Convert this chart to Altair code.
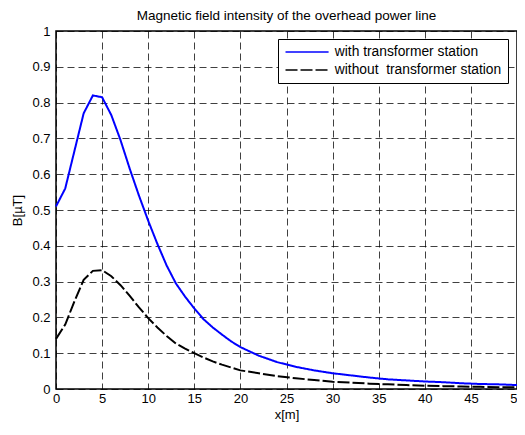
import altair as alt
import pandas as pd

x_vals = list(range(0, 21)) + list(range(22, 51, 2))

with_station = [0.51, 0.56, 0.665, 0.77, 0.82, 0.815, 0.765, 0.695, 0.615, 0.54,
                0.47, 0.405, 0.345, 0.295, 0.258, 0.225, 0.195, 0.172, 0.152, 0.133,
                0.117, 0.093, 0.075, 0.062, 0.052, 0.044, 0.038, 0.032, 0.027, 0.024,
                0.021, 0.019, 0.016, 0.014, 0.013, 0.011]

without_station = [0.14, 0.18, 0.245, 0.305, 0.33, 0.332, 0.315, 0.29, 0.26, 0.228,
                   0.198, 0.172, 0.148, 0.127, 0.113, 0.1, 0.088, 0.077, 0.068, 0.06,
                   0.052, 0.044, 0.036, 0.03, 0.025, 0.02, 0.018, 0.015, 0.013, 0.011,
                   0.009, 0.008, 0.007, 0.006, 0.005, 0.005]

series_names = ["with transformer station", "without\u00a0 transformer station"]
series_colors = ["#0000ff", "#000000"]
series_dash = [[1, 0], [12, 3]]

x_ticks = list(range(0, 51, 5))
y_ticks = [0, 0.1, 0.2, 0.3, 0.4, 0.5, 0.6, 0.7, 0.8, 0.9, 1.0]

rows = []
for name, vals in zip(series_names, [with_station, without_station]):
    for xv, yv in zip(x_vals, vals):
        rows.append({"x": xv, "B": yv, "series": name})
df = pd.DataFrame(rows)

FONT = "Liberation Sans"

chart = alt.Chart(df).mark_line(strokeWidth=2).encode(
    x=alt.X("x:Q", scale=alt.Scale(domain=[0, 50], nice=False),
            axis=alt.Axis(values=x_ticks, title="x[m]", labelPadding=3,
                          titlePadding=3, labelFlush=False)),
    y=alt.Y("B:Q", scale=alt.Scale(domain=[0, 1], nice=False),
            axis=alt.Axis(values=y_ticks, format=".1~f", title="B[\u00b5T]",
                          labelPadding=6, titlePadding=7, labelFlush=False)),
    color=alt.Color("series:N",
                    scale=alt.Scale(domain=series_names, range=series_colors),
                    legend=alt.Legend(title=None, orient="none", legendX=222, legendY=8,
                                      strokeColor="black", fillColor="white",
                                      padding=6, symbolType="M-1,0H7", symbolSize=116,
                                      symbolStrokeWidth=1.5, labelFontSize=13.8,
                                      labelFont=FONT, rowPadding=3, labelOffset=37,
                                      labelLimit=400,
                                      labelColor="black", cornerRadius=0)),
    strokeDash=alt.StrokeDash("series:N",
                              scale=alt.Scale(domain=series_names, range=series_dash),
                              legend=None),
).properties(
    width=461, height=358,
    title=alt.TitleParams("Magnetic field intensity of the overhead power line",
                          fontSize=13.5, font=FONT, fontWeight="normal", frame="group",
                          offset=3, color="black"),
    padding={"left": 48, "top": 23, "right": 0, "bottom": 34},
    autosize=alt.AutoSizeParams(type="none"),
).configure_view(
    stroke="black", strokeWidth=1.5
).configure_axis(
    domain=False, ticks=False, grid=True, gridColor="#000000", gridOpacity=0.75,
    gridDash=[7, 4], gridWidth=1, labelFont=FONT, labelFontSize=13,
    labelColor="black", titleFont=FONT, titleFontSize=13, titleFontWeight="normal",
    titleColor="black"
)

chart.save("out.html", embed_options={"renderer": "svg", "actions": False})
